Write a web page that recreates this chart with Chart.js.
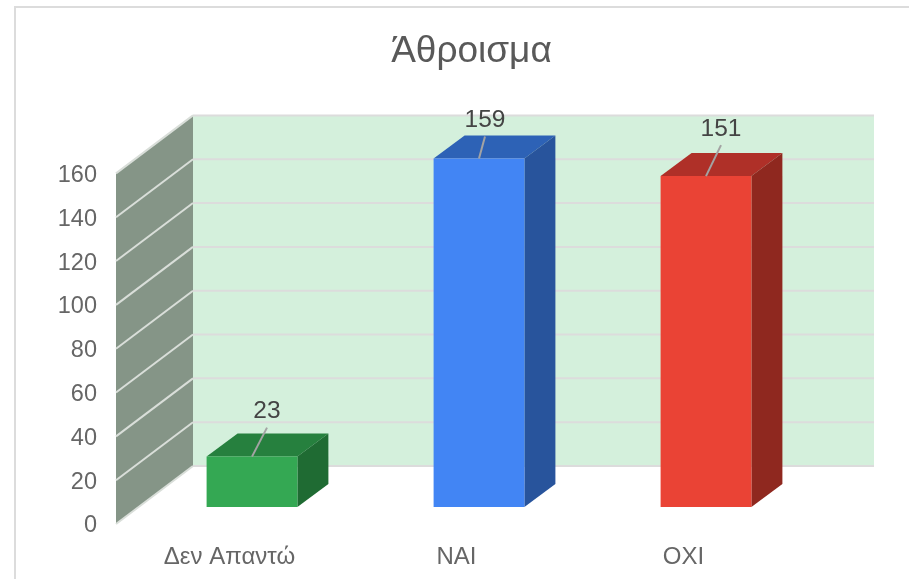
<!DOCTYPE html>
<html>
<head>
<meta charset="utf-8">
<style>
  html, body { margin: 0; padding: 0; background: #fff; overflow: hidden; }
  #frame { position: absolute; left: 14px; top: 6px; right: 0; bottom: 0; border-left: 2px solid #dcdcdc; border-top: 2px solid #dcdcdc; }
  canvas { position: absolute; left: 0; top: 0; }
</style>
<script src="https://cdn.jsdelivr.net/npm/chart.js@4/dist/chart.umd.min.js"></script>
</head>
<body>
<div id="frame"></div>
<canvas id="chart" width="909" height="579"></canvas>
<script>
/* data */
const categories = ["Δεν Απαντώ", "ΝΑΙ", "ΟΧΙ"];
const values = [23, 159, 151];
const frontColors = ["#34a853", "#4285f4", "#ea4335"];
const topColors = ["#26803e", "#2d62b6", "#af3028"];
const sideColors = ["#1f6b33", "#28549c", "#8f281f"];
const chartTitle = "Άθροισμα";

/* fake 3d: depth of the box and where the bars sit inside it */
const wallDepth = { x: 77, y: -58 };
const barShift = { x: 22.5, y: -17 };
const barDepth = { x: 31, y: -23 };
const labelNudge = [{ x: 15, y: -29 }, { x: 6, y: -22 }, { x: 15, y: -31 }];

function poly(ctx, pts, fill) {
  ctx.beginPath();
  pts.forEach((p, i) => (i ? ctx.lineTo(p[0], p[1]) : ctx.moveTo(p[0], p[1])));
  ctx.closePath();
  ctx.fillStyle = fill;
  ctx.fill();
}

const box3d = {
  id: "box3d",
  afterLayout(chart) {
    // title sits right of the plot centre in the original
    chart.titleBlock.left += 73;
    chart.titleBlock.right += 73;
  },
  beforeDraw(chart) {
    const ctx = chart.ctx, a = chart.chartArea, y = chart.scales.y;
    const dx = wallDepth.x, dy = wallDepth.y;
    ctx.save();
    // back wall
    poly(ctx, [[a.left + dx, a.top + dy], [a.right + dx, a.top + dy], [a.right + dx, a.bottom + dy], [a.left + dx, a.bottom + dy]], "#d4f0dc");
    // left wall
    poly(ctx, [[a.left, a.top], [a.left + dx, a.top + dy], [a.left + dx, a.bottom + dy], [a.left, a.bottom]], "#859587");
    // grid lines
    ctx.lineWidth = 2;
    y.ticks.forEach((t) => {
      const py = y.getPixelForValue(t.value);
      ctx.strokeStyle = "#dcdcdc";
      ctx.beginPath();
      ctx.moveTo(a.left + dx, py + dy);
      ctx.lineTo(a.right + dx, py + dy);
      ctx.stroke();
      ctx.strokeStyle = "#d9ded9";
      ctx.beginPath();
      ctx.moveTo(a.left, py);
      ctx.lineTo(a.left + dx, py + dy);
      ctx.stroke();
    });
    ctx.restore();
  },
  beforeDatasetsDraw(chart) {
    const ctx = chart.ctx;
    ctx.save();
    ctx.translate(barShift.x, barShift.y);
    chart.getDatasetMeta(0).data.forEach((bar, i) => {
      const l = bar.x - bar.width / 2, r = bar.x + bar.width / 2;
      const dx = barDepth.x, dy = barDepth.y;
      poly(ctx, [[l, bar.y], [l + dx, bar.y + dy], [r + dx, bar.y + dy], [r, bar.y]], topColors[i]);
      poly(ctx, [[r, bar.y], [r + dx, bar.y + dy], [r + dx, bar.base + dy], [r, bar.base]], sideColors[i]);
    });
  },
  afterDatasetsDraw(chart) {
    const ctx = chart.ctx;
    // leader line + value over each bar, still shifted into the box
    chart.getDatasetMeta(0).data.forEach((bar, i) => {
      const n = labelNudge[i];
      ctx.strokeStyle = "#a3a3a3";
      ctx.lineWidth = 2;
      ctx.beginPath();
      ctx.moveTo(bar.x, bar.y);
      ctx.lineTo(bar.x + n.x, bar.y + n.y);
      ctx.stroke();
      ctx.fillStyle = "#444";
      ctx.font = '24.5px "Liberation Sans", Arial, sans-serif';
      ctx.textAlign = "center";
      ctx.textBaseline = "middle";
      ctx.fillText(String(values[i]), bar.x + n.x, bar.y + n.y - 16);
    });
    ctx.restore();
  },
};

new Chart(document.getElementById("chart"), {
  type: "bar",
  data: {
    labels: categories,
    datasets: [{
      data: values,
      backgroundColor: frontColors,
      borderWidth: 0,
      barPercentage: 0.4,
      categoryPercentage: 1,
      clip: false,
    }],
  },
  plugins: [box3d],
  options: {
    responsive: false,
    animation: false,
    devicePixelRatio: 1,
    layout: { padding: { left: 0, right: 112, top: 0, bottom: 0 } },
    plugins: {
      legend: { display: false },
      tooltip: { enabled: false },
      title: {
        display: true,
        text: chartTitle,
        color: "#595959",
        font: { family: '"Liberation Sans", Arial, sans-serif', size: 37, weight: "normal" },
        padding: { top: 30, bottom: 99 },
      },
    },
    scales: {
      x: {
        grid: { display: false, drawTicks: false },
        border: { display: false },
        ticks: {
          color: "#666",
          font: { family: '"Liberation Sans", Arial, sans-serif', size: 24 },
          padding: 19,
          maxRotation: 0,
          autoSkip: false,
        },
        afterFit(s) { s.height = 55; },
      },
      y: {
        min: 0,
        max: 160,
        grid: { display: false, drawTicks: false },
        border: { display: false },
        ticks: {
          stepSize: 20,
          color: "#666",
          font: { family: '"Liberation Sans", Arial, sans-serif', size: 23.5 },
          padding: 19,
          labelOffset: 2,
        },
        afterFit(s) { s.width = 116; },
      },
    },
  },
});
</script>
</body>
</html>
